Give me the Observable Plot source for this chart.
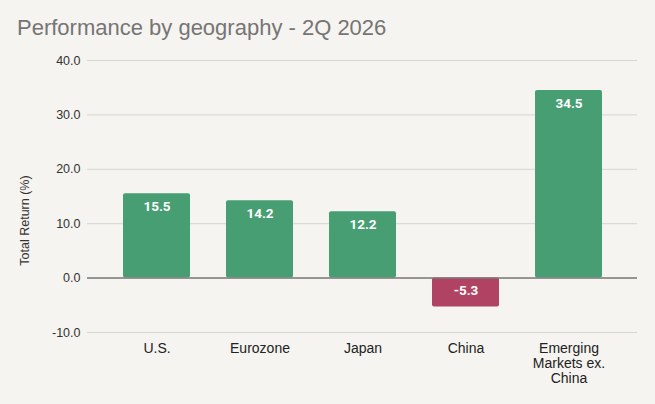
<!DOCTYPE html>
<html>
<head>
<meta charset="utf-8">
<script src="https://cdn.jsdelivr.net/npm/d3@7"></script>
<script src="https://cdn.jsdelivr.net/npm/@observablehq/plot@0.6"></script>
<style>
  html, body { margin: 0; padding: 0; background: #f5f4f0; }
  #wrap { width: 655px; height: 404px; position: relative; overflow: hidden; background: #f5f4f0; }
  #title { position: absolute; left: 17px; top: 15px; font-family: "Liberation Sans", Arial, sans-serif; font-size: 22px; line-height: 25px; color: #757575; white-space: nowrap; }
  #chart { position: absolute; left: 0; top: 48px; }
</style>
</head>
<body>
<div id="wrap">
  <div id="title">Performance by geography - 2Q 2026</div>
  <div id="chart"></div>
</div>
<script>
const categories = ["U.S.", "Eurozone", "Japan", "China", "Emerging Markets ex. China"];
const tickLabels = ["U.S.", "Eurozone", "Japan", "China", "Emerging\nMarkets ex.\nChina"];
const values = [15.5, 14.2, 12.2, -5.3, 34.5];
const yTicks = [-10, 0, 10, 20, 30, 40];
const yLabel = "Total Return (%)";

const data = categories.map((c, i) => ({cat: c, value: values[i], label: tickLabels[i]}));
const labelOf = new Map(data.map(d => [d.cat, d.label]));

const chart = Plot.plot({
  width: 655,
  height: 356,
  marginTop: 12,
  marginBottom: 72,
  marginLeft: 87,
  marginRight: 18,
  style: {background: "transparent", fontFamily: "'Liberation Sans', Arial, sans-serif"},
  x: {domain: categories, paddingInner: 0.35, paddingOuter: 0.33, label: null},
  y: {domain: [-10, 40], ticks: yTicks, label: null},
  marks: [
    Plot.gridY(yTicks, {stroke: "#d6d5d1", strokeOpacity: 1, strokeWidth: 1}),
    Plot.axisY(yTicks, {tickSize: 0, tickPadding: 7, tickFormat: d => d.toFixed(1), fontSize: 12.5, fill: "#333", label: null}),
    Plot.axisX({tickSize: 0, tickPadding: 10, tickFormat: d => labelOf.get(d), fontSize: 14, fill: "#222", label: null, lineHeight: 1.08}),
    Plot.barY(data, {x: "cat", y: "value", fill: d => d.value >= 0 ? "#479e73" : "#b04363", rx: 2}),
    Plot.ruleY([0], {stroke: "#7a7a7a", strokeWidth: 1.5}),
    Plot.text(data, {x: "cat", y: d => Math.max(d.value, 0), text: d => d.value.toFixed(1), dy: 13, fill: "white", fontWeight: "bold", fontSize: 13.5, fontFamily: "Roboto, sans-serif"}),
    Plot.text([yLabel], {frameAnchor: "left", textAnchor: "middle", dx: -63, dy: 24, rotate: -90, fontSize: 12.5, fill: "#333", text: d => d})
  ]
});
document.getElementById("chart").appendChild(chart);
</script>
</body>
</html>
